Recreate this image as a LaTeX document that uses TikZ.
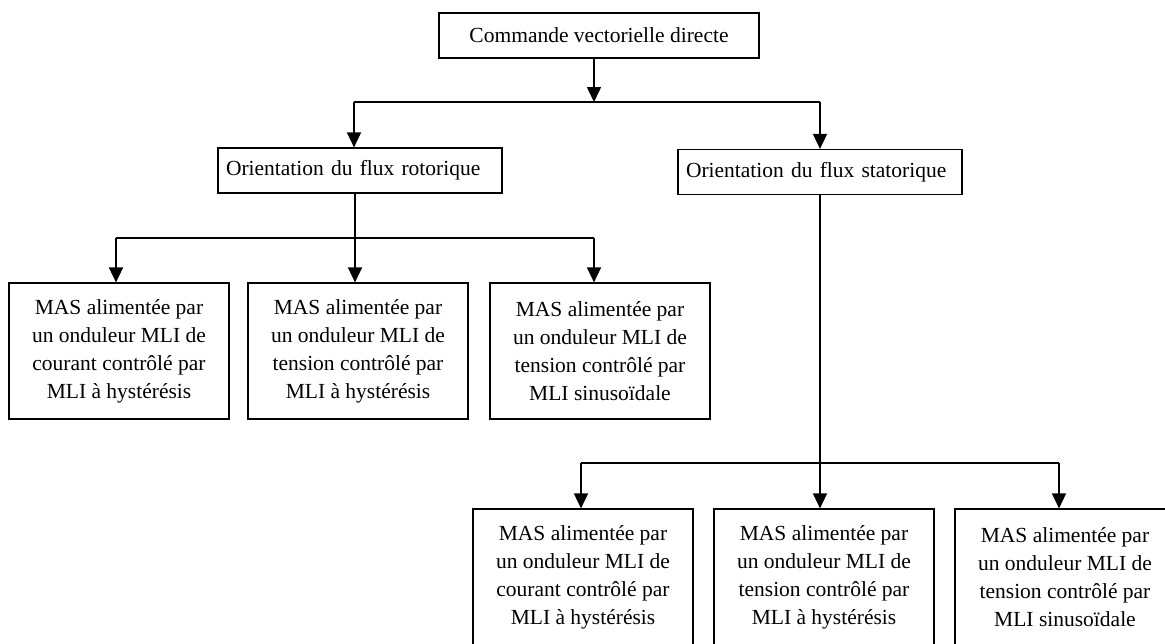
\documentclass[tikz,border=0pt]{standalone}
\usepackage{fontspec}
\setmainfont{Liberation Serif}
\usetikzlibrary{arrows.meta}
\begin{document}
\begin{tikzpicture}[x=1pt,y=-1pt,
  box/.style={draw, line width=1.2pt, inner sep=0pt, align=center,
              font=\fontsize{21.5}{28}\selectfont},
  title/.style={box, minimum width=320pt, minimum height=45pt},
  branch/.style={box, text width=268pt, inner xsep=8pt, align=left,
                 minimum height=45pt},
  leaf/.style={box, minimum width=220pt, minimum height=136pt},
  link/.style={line width=1.6pt},
  arr/.style={link, -{Triangle[length=15pt,width=14pt]}}]

\useasboundingbox (0,0) rectangle (1165,643);
\clip (0,0) rectangle (1165,643);

% root
\node[title] (top) at (599,35.5) {Commande vectorielle directe};

% two orientations
\node[branch] (rot) at (360,170.5) {Orientation du flux rotorique};
\node[branch] (sta) at (820,172) {Orientation du flux statorique};

% rotor flux variants
\node[leaf] (r1) at (119,351) {MAS alimentée par\\un onduleur MLI de\\courant contrôlé par\\MLI à hystérésis};
\node[leaf] (r2) at (358,351) {MAS alimentée par\\un onduleur MLI de\\tension contrôlé par\\MLI à hystérésis};
\node[leaf] (r3) at (600,351) {MAS alimentée par\\un onduleur MLI de\\tension contrôlé par\\MLI sinusoïdale};

% stator flux variants
\node[leaf] (s1) at (583,577) {MAS alimentée par\\un onduleur MLI de\\courant contrôlé par\\MLI à hystérésis};
\node[leaf] (s2) at (824,577) {MAS alimentée par\\un onduleur MLI de\\tension contrôlé par\\MLI à hystérésis};
\node[leaf] (s3) at (1065,577) {MAS alimentée par\\un onduleur MLI de\\tension contrôlé par\\MLI sinusoïdale};

% junction points of the bus lines
\coordinate (j0) at (594,102);
\coordinate (ja) at (354,102);
\coordinate (jb) at (820,102);
\coordinate (k0) at (355,238);
\coordinate (ka) at (116,238);
\coordinate (kb) at (594,238);
\coordinate (m0) at (820,463);
\coordinate (ma) at (581,463);
\coordinate (mb) at (1059,463);

% root to orientations
\draw[arr] (j0 |- top.south) -- (j0);
\draw[link] (ja) -- (jb);
\draw[arr] (ja) -- (ja |- rot.north);
\draw[arr] (jb) -- (jb |- sta.north);

% rotor flux branch
\draw[link] (k0 |- rot.south) -- (k0);
\draw[link] (ka) -- (kb);
\draw[arr] (ka) -- (ka |- r1.north);
\draw[arr] (k0) -- (k0 |- r2.north);
\draw[arr] (kb) -- (kb |- r3.north);

% stator flux branch
\draw[arr] (m0 |- sta.south) -- (m0 |- s2.north);
\draw[link] (ma) -- (mb);
\draw[arr] (ma) -- (ma |- s1.north);
\draw[arr] (mb) -- (mb |- s3.north);
\end{tikzpicture}
\end{document}
